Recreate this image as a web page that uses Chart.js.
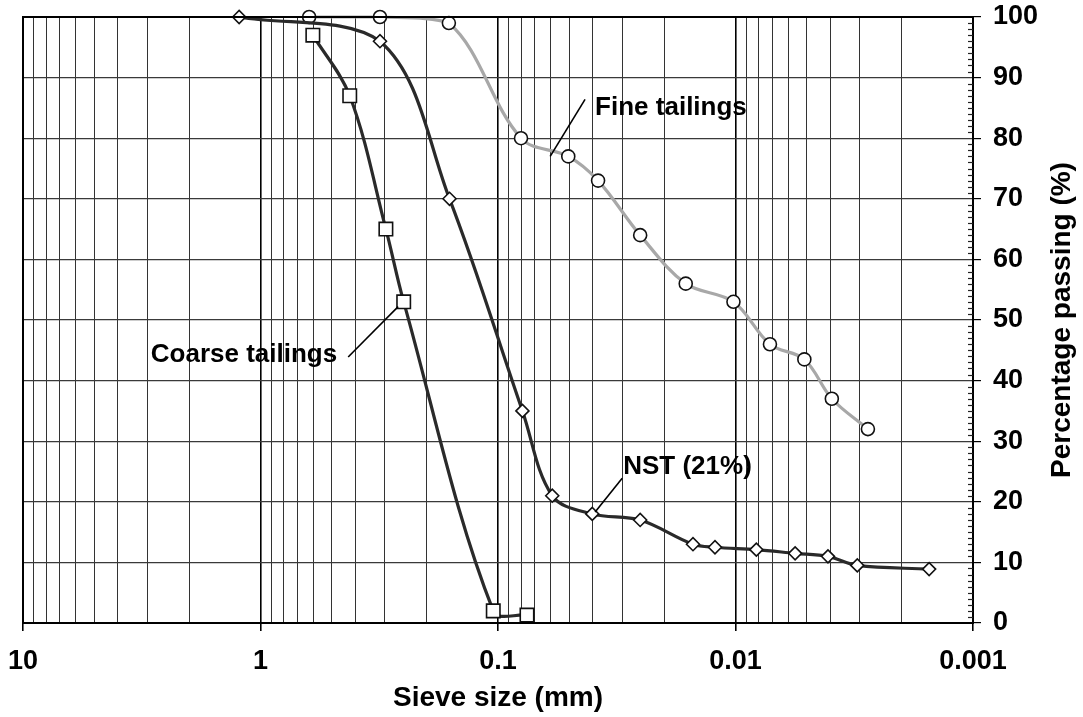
<!DOCTYPE html>
<html><head><meta charset="utf-8">
<script src="https://cdn.jsdelivr.net/npm/chart.js@4.4.1/dist/chart.umd.min.js"></script>
<style>html,body{margin:0;padding:0;background:#fff;}</style>
</head><body>
<canvas id="c" width="1083" height="717"></canvas>
<script>
// ---- data ----
const decadeTicks  = [10, 1, 0.1, 0.01, 0.001];
const decadeLabels = ['10', '1', '0.1', '0.01', '0.001'];
const yTickLabels  = ['0','10','20','30','40','50','60','70','80','90','100'];

const nstSize    = [1.23, 0.314, 0.160, 0.0789, 0.0591, 0.0401, 0.0252, 0.0151, 0.0122, 0.00817, 0.00561, 0.00408, 0.00307, 0.00153];
const nstPassing = [100, 96, 70, 35, 21, 18, 17, 13, 12.5, 12.1, 11.5, 11, 9.5, 8.9];

const coarseSize    = [0.602, 0.421, 0.2965, 0.2495, 0.1047, 0.0755];
const coarsePassing = [97, 87, 65, 53, 2, 1.3];

const fineSize    = [0.624, 0.314, 0.161, 0.080, 0.0506, 0.0379, 0.0252, 0.0162, 0.0102, 0.00716, 0.00513, 0.00393, 0.00277];
const finePassing = [100, 100, 99, 80, 77, 73, 64, 56, 53, 46, 43.5, 37, 32];

const seriesNames = ['NST (21%)', 'Coarse tailings', 'Fine tailings'];

// annotation labels: text anchor and leader line in data space
const annotations = [
  {text:'Fine tailings',   x:0.039,  y:85.0, align:'left',  line:[[0.0430,86.4],[0.0603,77.0]]},
  {text:'Coarse tailings', x:0.4754, y:44.2, align:'right', line:[[0.4274,43.9],[0.2633,52.2]]},
  {text:'NST (21%)',       x:0.0297, y:25.7, align:'left',  line:[[0.0300,23.9],[0.0390,18.3]]}
];

// ---- helpers ----
const FONT = '"Liberation Sans", Arial, sans-serif';
const toPts = (xs, ys) => xs.map((x, i) => ({x, y: ys[i]}));
const isDecade = v => decadeTicks.some(d => Math.abs(v / d - 1) < 1e-6);
function decadeLabel(v){
  const i = decadeTicks.findIndex(d => Math.abs(v / d - 1) < 1e-6);
  return i >= 0 ? decadeLabels[i] : '';
}

const framePlugin = {
  id: 'frame',
  afterDraw(chart){
    const {ctx, chartArea: a, scales} = chart;
    const xs = scales.x, ys = scales.y;
    ctx.save();
    // frame
    ctx.strokeStyle = '#000'; ctx.lineWidth = 2;
    ctx.strokeRect(a.left, a.top, a.right - a.left, a.bottom - a.top);
    // inner minor ticks on right axis
    ctx.lineWidth = 1.2; ctx.strokeStyle = '#222';
    for (let v = 1; v < 100; v++){
      if (v % 10 === 0) continue;
      const py = Math.round(ys.getPixelForValue(v)) + 0.5;
      ctx.beginPath(); ctx.moveTo(a.right - 5, py); ctx.lineTo(a.right, py); ctx.stroke();
    }
    // annotations
    ctx.fillStyle = '#000'; ctx.strokeStyle = '#000'; ctx.lineWidth = 1.6;
    ctx.font = 'bold 26px ' + FONT;
    ctx.textBaseline = 'middle';
    annotations.forEach(an => {
      ctx.textAlign = an.align;
      ctx.fillText(an.text, xs.getPixelForValue(an.x), ys.getPixelForValue(an.y));
      ctx.beginPath();
      ctx.moveTo(xs.getPixelForValue(an.line[0][0]), ys.getPixelForValue(an.line[0][1]));
      ctx.lineTo(xs.getPixelForValue(an.line[1][0]), ys.getPixelForValue(an.line[1][1]));
      ctx.stroke();
    });
    // right axis title (reads bottom to top)
    ctx.font = 'bold 28px ' + FONT;
    ctx.textAlign = 'center'; ctx.textBaseline = 'middle';
    ctx.translate(ys.left + 89, (a.top + a.bottom) / 2);
    ctx.rotate(-Math.PI / 2);
    ctx.fillText('Percentage passing (%)', 0, 0);
    ctx.restore();
  }
};

const markerCommon = {pointBackgroundColor:'#fff', pointBorderColor:'#111', pointBorderWidth:1.6, clip:false, tension:0.35, fill:false};

new Chart(document.getElementById('c'), {
  type: 'line',
  data: {
    datasets: [
      Object.assign({label: seriesNames[0], data: toPts(nstSize, nstPassing), borderColor:'#2a2a2a', borderWidth:3.2, pointStyle:'rectRot', pointRadius:6.5}, markerCommon),
      Object.assign({label: seriesNames[1], data: toPts(coarseSize, coarsePassing), borderColor:'#2a2a2a', borderWidth:3.2, pointStyle:'rect', pointRadius:9.5}, markerCommon),
      Object.assign({label: seriesNames[2], data: toPts(fineSize, finePassing), borderColor:'#a8a8a8', borderWidth:3.2, pointStyle:'circle', pointRadius:6.5}, markerCommon)
    ]
  },
  options: {
    responsive: false,
    animation: false,
    layout: {padding: {left: 23, top: 17, right: 0, bottom: 0}},
    plugins: {legend: {display: false}, tooltip: {enabled: false}},
    scales: {
      x: {
        type: 'logarithmic', min: 0.001, max: 10, reverse: true,
        afterBuildTicks(scale){
          const t = [];
          for (let e = -3; e <= 0; e++){
            const d = Math.pow(10, e);
            for (let m = 1; m <= 9; m++) t.push({value: Number((m * d).toPrecision(3))});
          }
          t.push({value: 10});
          scale.ticks = t;
        },
        afterFit(scale){ scale.height = 94; scale.paddingLeft = 0; scale.paddingRight = 0; },
        ticks: {autoSkip: false, maxRotation: 0, minRotation: 0, color: '#000', padding: 14,
                font: {family: FONT, size: 27, weight: 'bold'},
                callback: v => decadeLabel(v)},
        grid: {color: c => isDecade(c.tick.value) ? '#000' : '#333',
               lineWidth: c => isDecade(c.tick.value) ? 1.6 : 1,
               tickColor: c => isDecade(c.tick.value) ? '#000' : 'rgba(0,0,0,0)',
               tickLength: 8},
        border: {color: '#000', width: 2},
        title: {display: true, text: 'Sieve size (mm)', color: '#000',
                font: {family: FONT, size: 28, weight: 'bold'}, padding: {top: 0, bottom: 2}}
      },
      y: {
        position: 'right', min: 0, max: 100,
        afterFit(scale){ scale.width = 110; scale.paddingTop = 0; scale.paddingBottom = 0; },
        ticks: {stepSize: 10, color: '#000', padding: 12,
                font: {family: FONT, size: 27, weight: 'bold'},
                callback: (v, i) => yTickLabels[Math.round(v / 10)] ?? ''},
        grid: {color: '#3a3a3a', lineWidth: 1.2, tickColor: '#000', tickLength: 8},
        border: {color: '#000', width: 2}
      }
    }
  },
  plugins: [framePlugin]
});
</script>
</body></html>
